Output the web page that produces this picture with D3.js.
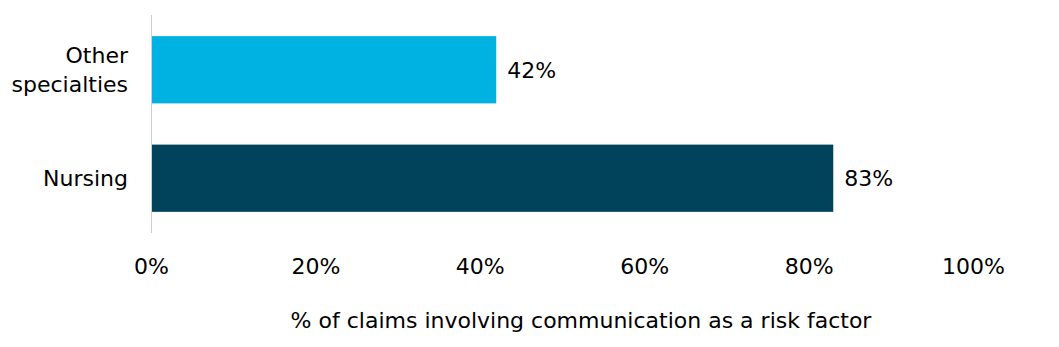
<!DOCTYPE html>
<html>
<head>
<meta charset="utf-8">
<script src="https://cdn.jsdelivr.net/npm/d3@7"></script>
<style>
  body { margin: 0; background: #fff; }
  text { font-family: "DejaVu Sans", sans-serif; fill: #000; }
</style>
</head>
<body>
<div id="chart"></div>
<script>
// chart data
const categories = ["Other specialties", "Nursing"];
const values = [0.42, 0.83];
const barColors = ["#00b2e2", "#02435c"];
const xTicks = [0, 0.2, 0.4, 0.6, 0.8, 1.0];
const xTitle = "% of claims involving communication as a risk factor";

const width = 1059, height = 347;
const margin = { top: 15, right: 86, bottom: 114, left: 151 };
const fontSize = 22;

const svg = d3.select("#chart")
    .append("svg")
    .attr("width", width)
    .attr("height", height);

const x = d3.scaleLinear()
    .domain([0, 1])
    .range([margin.left, width - margin.right]);

const y = d3.scaleBand()
    .domain(categories)
    .range([margin.top, height - margin.bottom])
    .paddingInner(0.38)
    .paddingOuter(0.195);

// bars
svg.append("g")
    .selectAll("rect")
    .data(categories)
    .join("rect")
    .attr("x", x(0))
    .attr("y", d => y(d))
    .attr("width", (d, i) => x(values[i]) - x(0))
    .attr("height", y.bandwidth())
    .attr("fill", (d, i) => barColors[i]);

// vertical axis line
svg.append("line")
    .attr("x1", x(0) + 0.5).attr("x2", x(0) + 0.5)
    .attr("y1", margin.top).attr("y2", height - margin.bottom)
    .attr("stroke", "#d0d0d0")
    .attr("stroke-width", 1);

// value labels
svg.append("g")
    .selectAll("text")
    .data(categories)
    .join("text")
    .attr("x", (d, i) => x(values[i]) + 11)
    .attr("y", d => y(d) + y.bandwidth() / 2)
    .attr("dy", "0.36em")
    .attr("font-size", fontSize)
    .text((d, i) => Math.round(values[i] * 100) + "%");

// category labels (wrapped)
const catLines = { "Other specialties": ["Other", "specialties"], "Nursing": ["Nursing"] };
svg.append("g")
    .selectAll("text")
    .data(categories)
    .join("text")
    .attr("text-anchor", "end")
    .attr("font-size", fontSize)
    .each(function (d) {
        const lines = catLines[d];
        const cy = y(d) + y.bandwidth() / 2;
        const lh = 29;
        d3.select(this).selectAll("tspan")
            .data(lines)
            .join("tspan")
            .attr("x", 128)
            .attr("y", (l, i) => cy + (i - (lines.length - 1) / 2) * lh)
            .attr("dy", "0.36em")
            .text(l => l);
    });

// x axis tick labels
const xAxis = svg.append("g")
    .attr("transform", `translate(0, ${height - margin.bottom})`)
    .call(d3.axisBottom(x).tickValues(xTicks).tickFormat(d3.format(".0%")).tickSize(0).tickPadding(25));
xAxis.select(".domain").remove();
xAxis.attr("font-family", null).attr("font-size", null);
xAxis.selectAll("text")
    .attr("font-size", fontSize)
    .attr("fill", "#000");

// axis title
svg.append("text")
    .attr("x", 581)
    .attr("y", 320)
    .attr("dy", "0.36em")
    .attr("text-anchor", "middle")
    .attr("font-size", fontSize)
    .text(xTitle);
</script>
</body>
</html>
